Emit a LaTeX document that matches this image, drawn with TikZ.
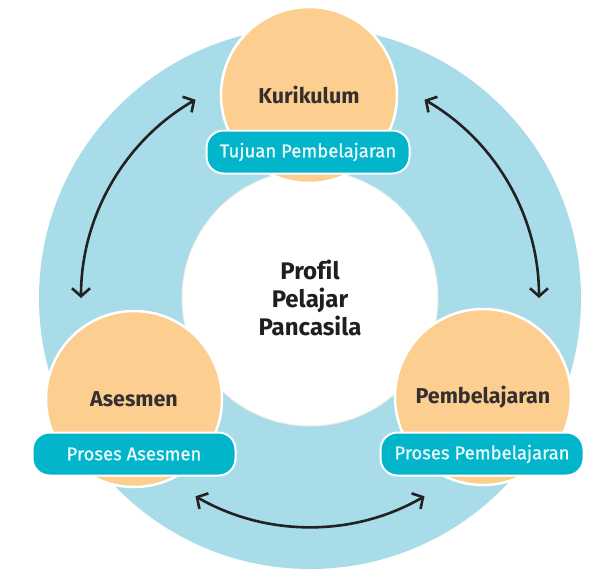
\documentclass[tikz,border=0pt]{standalone}
\usepackage{fontspec}
\setmainfont[Ligatures=NoCommon]{Fira Sans}
\usetikzlibrary{arrows.meta}
\definecolor{ringblue}{HTML}{A7DCE8}
\definecolor{orng}{HTML}{FCCE90}
\definecolor{pill}{HTML}{03B5CB}
\definecolor{pilltext}{HTML}{EAF9FB}
\definecolor{darktext}{HTML}{352F2F}
\definecolor{arrowcol}{HTML}{222222}
\tikzset{
  topic/.style={circle, fill=orng, draw=white, line width=2.5pt, minimum size=176pt, inner sep=0pt,
    font=\fontsize{21.5}{24}\selectfont\bfseries, text=darktext},
  pillbox/.style={rectangle, rounded corners=17pt, fill=pill, draw=white, line width=2pt,
    minimum width=203pt, minimum height=43pt, inner sep=0pt,
    font=\fontsize{18.5}{22}\selectfont\addfontfeatures{FakeBold=1}, text=pilltext},
  cycarrow/.style={draw=arrowcol, line width=2.6pt,
    {Straight Barb[length=8pt,width=18pt,line width=2.6pt]}-{Straight Barb[length=8pt,width=18pt,line width=2.6pt]}}
}
\begin{document}
\begin{tikzpicture}[x=1pt,y=-1pt]
\useasboundingbox (0,0) rectangle (589,571);
% ring
\node[circle, fill=ringblue, minimum size=542pt, inner sep=0pt] (ring) at (310,298) {};
\node[circle, fill=white, draw=black!8, line width=1pt, minimum size=256pt, inner sep=0pt, align=center,
  font=\fontsize{24}{28}\selectfont\bfseries, text=black!88] (core) at (310,298)
  {Profil\\Pelajar\\Pancasila};
% arrows
\coordinate (aL) at (81,298);
\coordinate (aR) at (539,298);
\coordinate (aB) at (195.5,496.3);
\draw[cycarrow] (aL) arc[start angle=-180, end angle=-120, radius=229];
\draw[cycarrow] (aR) arc[start angle=0, end angle=-60, radius=229];
\draw[cycarrow] (aB) arc[start angle=120, end angle=60, radius=229];
% topics
\node[topic] (kur) at (309,95) {Kurikulum};
\node[topic] (ases) at (134,399) {Asesmen};
\node[topic] (pemb) at (483,397) {Pembelajaran};
\node[pillbox] (tp) at (308,152) {Tujuan Pembelajaran};
\node[pillbox] (pa) at (134,454) {Proses Asesmen};
\node[pillbox] (pp) at (482,454) {Proses Pembelajaran};
\end{tikzpicture}
\end{document}
